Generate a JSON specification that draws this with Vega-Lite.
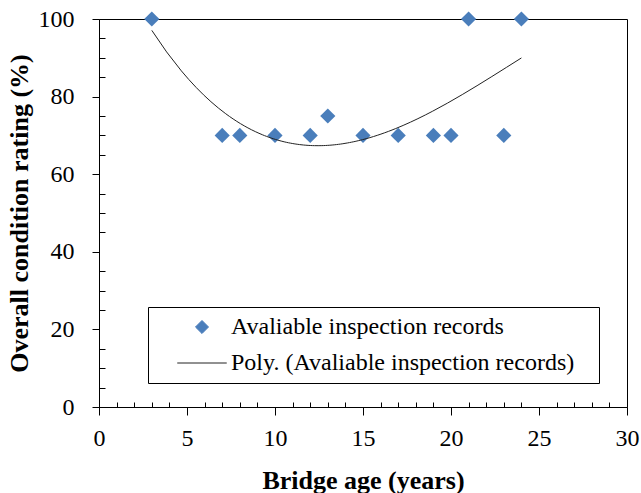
{
  "$schema": "https://vega.github.io/schema/vega-lite/v6.json",
  "width": 528,
  "height": 388,
  "autosize": {"type": "none"},
  "padding": {"left": 99, "top": 19, "right": 14, "bottom": 86},
  "background": "white",
  "config": {
    "view": {"stroke": "black", "strokeWidth": 1},
    "font": "Liberation Serif",
    "style": {"guide-label": {"font": "Liberation Serif"}, "guide-title": {"font": "Liberation Serif"}},
    "axis": {
      "labelFont": "Liberation Serif", "labelFontSize": 24, "labelColor": "black", "labelFlush": false,
      "titleFont": "Liberation Serif", "titleFontSize": 26, "titleFontWeight": "bold", "titleColor": "black",
      "domainColor": "black", "tickColor": "black", "grid": false
    },
    "legend": {
      "orient": "none", "legendX": 49, "legendY": 288,
      "fillColor": "white", "strokeColor": "black", "padding": 8,
      "labelFont": "Liberation Serif", "labelFontSize": 24, "labelColor": "black",
      "symbolSize": 200, "symbolOffset": 34, "labelOffset": 17, "rowPadding": 12, "labelLimit": 600,
      "titleOrient": "right", "titlePadding": 17, "titleFontSize": 24
    }
  },
  "data": {"values": [
    {"age": 3, "rating": 100},
    {"age": 7, "rating": 70},
    {"age": 8, "rating": 70},
    {"age": 10, "rating": 70},
    {"age": 12, "rating": 70},
    {"age": 13, "rating": 75},
    {"age": 15, "rating": 70},
    {"age": 17, "rating": 70},
    {"age": 19, "rating": 70},
    {"age": 20, "rating": 70},
    {"age": 21, "rating": 100},
    {"age": 23, "rating": 70},
    {"age": 24, "rating": 100}
  ]},
  "resolve": {"axis": {"x": "independent", "y": "independent"}},
  "layer": [
    {
      "mark": {"type": "point", "shape": "diamond", "filled": true, "size": 230, "opacity": 1},
      "encoding": {
        "x": {"field": "age", "type": "quantitative",
              "scale": {"domain": [0, 30], "nice": false},
              "axis": {"orient": "bottom", "title": "Bridge age (years)", "values": [0, 5, 10, 15, 20, 25, 30],
                       "tickSize": 8, "labelPadding": 11, "titlePadding": 17, "labelFont": "Liberation Serif"}},
        "y": {"field": "rating", "type": "quantitative",
              "scale": {"domain": [0, 100], "nice": false},
              "axis": {"orient": "left", "title": "Overall condition rating (%)", "values": [0, 20, 40, 60, 80, 100],
                       "tickSize": 7, "labelPadding": 18, "titlePadding": 6, "labelFont": "Liberation Serif"}},
        "color": {"datum": "Avaliable inspection records", "type": "nominal",
                  "scale": {"domain": ["Avaliable inspection records", "Poly. (Avaliable inspection records)"],
                            "range": ["#4a7ebb", "#222222"]},
                  "legend": {"title": " ",
                    "encode": {"symbols": {"update": {
                      "shape": {"signal": "datum.value === 'Avaliable inspection records' ? 'diamond' : 'M-3.5,0H3.5'"},
                      "size": {"signal": "datum.value === 'Avaliable inspection records' ? 170 : 200"},
                      "fill": {"signal": "datum.value === 'Avaliable inspection records' ? '#4a7ebb' : 'transparent'"},
                      "stroke": {"signal": "datum.value === 'Avaliable inspection records' ? 'transparent' : '#222222'"},
                      "strokeWidth": {"value": 1}
                    }}}}}
      }
    },
    {
      "transform": [{"regression": "rating", "on": "age", "method": "poly", "order": 3, "extent": [3, 24]}],
      "mark": {"type": "line", "strokeWidth": 1},
      "encoding": {
        "x": {"field": "age", "type": "quantitative",
              "scale": {"domain": [0, 30], "nice": false},
              "axis": {"orient": "bottom", "title": null, "labels": false, "domain": false,
                       "values": [1, 2, 3, 4, 6, 7, 8, 9, 11, 12, 13, 14, 16, 17, 18, 19, 21, 22, 23, 24, 26, 27, 28, 29],
                       "tickSize": -5}},
        "y": {"field": "rating", "type": "quantitative",
              "scale": {"domain": [0, 100], "nice": false},
              "axis": {"orient": "left", "title": null, "labels": false, "domain": false,
                       "values": [5, 10, 15, 25, 30, 35, 45, 50, 55, 65, 70, 75, 85, 90, 95],
                       "tickSize": -6}},
        "color": {"datum": "Poly. (Avaliable inspection records)", "type": "nominal",
                  "legend": {"title": " ",
                    "encode": {"symbols": {"update": {
                      "shape": {"signal": "datum.value === 'Avaliable inspection records' ? 'diamond' : 'M-3.5,0H3.5'"},
                      "size": {"signal": "datum.value === 'Avaliable inspection records' ? 170 : 200"},
                      "fill": {"signal": "datum.value === 'Avaliable inspection records' ? '#4a7ebb' : 'transparent'"},
                      "stroke": {"signal": "datum.value === 'Avaliable inspection records' ? 'transparent' : '#222222'"},
                      "strokeWidth": {"value": 1}
                    }}}}}
      }
    }
  ]
}
